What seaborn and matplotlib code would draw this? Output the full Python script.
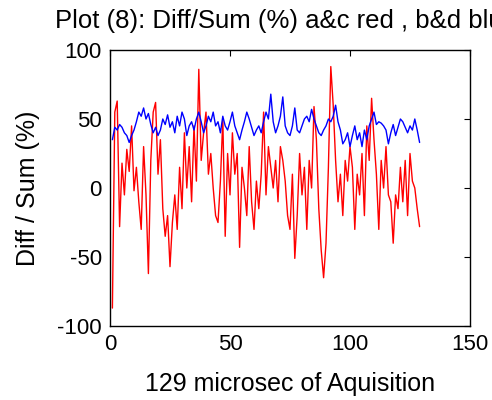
import numpy as np
import pandas as pd
import matplotlib
matplotlib.use("Agg")
import matplotlib.pyplot as plt
import seaborn as sns

red_ac = [-87, 55, 63, -28, 18, -5, 28, 12, 45, -2, 15, -10, -30, 30, -5, -62, 20, 55, 62, 10,
          35, -15, -35, -20, -57, -25, -5, -30, 15, -15, 40, 0, 30, -10, 45, 5, 86, 20, 40, 55,
          10, 25, 0, -20, -25, 5, 50, -35, 25, -5, 40, 10, 25, -43, 15, 0, -20, 30, -10, -30,
          5, -15, 10, 55, -5, 30, 15, 0, 20, -10, 30, 20, 5, -20, -30, 10, -51, -20, 25, -5,
          15, -30, 20, 0, 59, 35, -15, -45, -65, -40, 15, 88, 60, 20, -10, 10, -20, 20, 5, 30,
          15, -30, 10, -5, 25, -20, 45, 20, 65, 35, 10, -30, 20, 0, 30, -5, -10, -40, -5, -15,
          15, -10, 20, -20, 25, 5, 0, -15, -28]
blue_bd = [35, 44, 42, 46, 44, 40, 38, 33, 38, 42, 48, 55, 52, 58, 50, 54, 46, 40, 44, 38,
           42, 50, 46, 53, 44, 48, 40, 52, 45, 55, 50, 38, 45, 48, 42, 50, 55, 48, 40, 45,
           52, 48, 55, 45, 48, 40, 52, 45, 42, 48, 55, 45, 40, 35, 42, 48, 55, 50, 44, 38,
           42, 45, 40, 48, 55, 50, 68, 48, 40, 45, 52, 66, 45, 40, 38, 45, 58, 42, 40, 45,
           50, 52, 48, 57, 50, 45, 40, 38, 42, 45, 50, 48, 52, 60, 48, 42, 32, 35, 40, 30,
           38, 45, 35, 40, 30, 42, 35, 45, 50, 55, 46, 48, 47, 45, 42, 32, 40, 46, 38, 44,
           50, 48, 44, 40, 45, 42, 50, 42, 33]
sample = list(range(1, len(red_ac) + 1))

title_text = "Plot (8): Diff/Sum (%) a&c red , b&d blue"
xlabel_text = "129 microsec of Aquisition"
ylabel_text = "Diff / Sum (%)"
xticks = [0, 50, 100, 150]
yticks = [-100, -50, 0, 50, 100]

sns.set_style("white")
plt.rcParams['font.family'] = ['Liberation Sans', 'DejaVu Sans']
plt.rcParams['axes.unicode_minus'] = False
plt.rcParams['text.color'] = 'black'
plt.rcParams['axes.labelcolor'] = 'black'

df = pd.DataFrame({"x": sample + sample,
                   "y": red_ac + blue_bd,
                   "s": ["ac"] * len(red_ac) + ["bd"] * len(blue_bd)})

fig = plt.figure(figsize=(4.92, 4.0), dpi=100)
ax = fig.add_axes([110 / 492, 1 - 326 / 400, 360 / 492, 276 / 400])
sns.lineplot(data=df, x="x", y="y", hue="s", palette={"ac": "#ff0000", "bd": "#0000ff"},
             linewidth=1.0, legend=False, ax=ax, estimator=None, sort=False)

ax.set_xlim(0, 150)
ax.set_ylim(-100, 100)
ax.set_xticks(xticks)
ax.set_yticks(yticks)
ax.tick_params(direction="in", length=4, top=True, right=True, labelsize=16, pad=6,
               colors="black", labelcolor="black")
for sp in ax.spines.values():
    sp.set_visible(True)
    sp.set_color("black")
    sp.set_linewidth(1.0)
ax.set_xlabel(xlabel_text, fontsize=18, color="black")
ax.set_ylabel(ylabel_text, fontsize=18, color="black")
ax.xaxis.set_label_coords(0.5, -0.165)
ax.yaxis.set_label_coords(-0.195, 0.5)
fig.text(55 / 492, 1 - 28 / 400, title_text, fontsize=18.5, ha="left", va="baseline", color="black")

fig.savefig("out.png", dpi=100)
